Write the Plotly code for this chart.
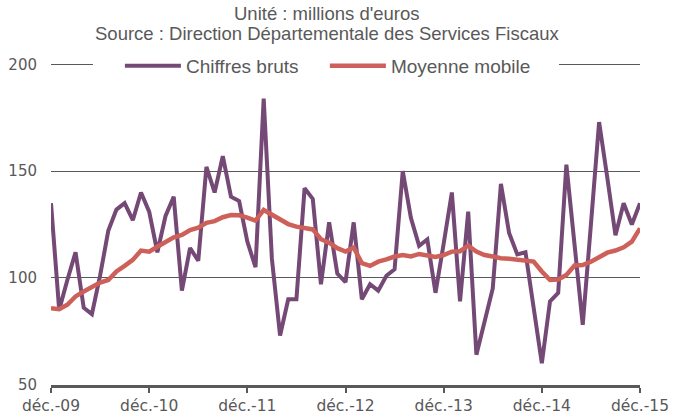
import plotly.graph_objects as go

# monthly values, déc.-09 .. déc.-15 (millions d'euros)
chiffres_bruts = [
    135, 85, 99, 112, 86, 83, 101, 122, 132, 135, 127, 140,
    131, 112, 129, 138, 94, 114, 108, 152, 140, 157, 138, 136,
    117, 105, 184, 109, 73, 90, 90, 142, 137, 97, 126, 102,
    98, 126, 90, 97, 94, 101, 104, 150, 128, 115, 118, 93,
    116, 140, 89, 131, 64, 79, 95, 144, 121, 111, 112, 86,
    60, 89, 93, 153, 115, 78, 125, 173, 147, 120, 135, 125,
    135,
]
moyenne_mobile = [
    85.8, 85.3, 87.4, 91.3, 93.6, 96.0, 97.8, 99.0, 103.0, 105.6, 108.4, 112.8,
    112.3, 114.6, 117.0, 119.0, 120.1, 122.4, 123.5, 125.8, 126.6, 128.4, 129.4, 129.3,
    128.2, 126.8, 131.8, 129.4, 127.1, 125.2, 124.0, 123.2, 122.7, 118.1, 116.5, 113.9,
    112.3, 114.2, 106.9, 105.6, 107.6, 108.7, 110.0, 110.7, 110.0, 111.2, 110.4, 109.8,
    110.7, 112.3, 112.5, 115.1, 112.3, 110.7, 110.0, 109.2, 109.0, 108.4, 108.0, 107.6,
    103.0, 99.0, 99.2, 101.4, 105.8, 106.0, 107.6, 110.0, 111.8, 112.8, 114.3, 117.0,
    123.2,
]

mois_fr = ["janv.", "févr.", "mars", "avr.", "mai", "juin",
           "juil.", "août", "sept.", "oct.", "nov.", "déc."]
mois = ["déc.-09"] + [f"{mois_fr[m]}-{y:02d}" for y in range(10, 16) for m in range(12)]
tick_labels = ["déc.-09", "déc.-10", "déc.-11", "déc.-12", "déc.-13", "déc.-14", "déc.-15"]

gray = "#595959"
purple = "#754975"
red = "#CE605A"

fig = go.Figure()
fig.add_trace(go.Scatter(x=mois, y=chiffres_bruts, mode="lines", name="Chiffres bruts",
                         line=dict(color=purple, width=4)))
fig.add_trace(go.Scatter(x=mois, y=moyenne_mobile, mode="lines", name="Moyenne mobile",
                         line=dict(color=red, width=4.5)))

# top gridline (200), interrupted by the legend
for x0, x1 in [(0, 0.0713), (0.8625, 1)]:
    fig.add_shape(type="line", xref="paper", yref="y", x0=x0, x1=x1, y0=200, y1=200,
                  line=dict(color=gray, width=1.3), layer="below")

title_font = dict(family="Liberation Sans, Arial, sans-serif", size=18.5, color=gray)
fig.add_annotation(text="Unité : millions d'euros", xref="paper", yref="paper",
                   x=0.4686, y=1.1573, xanchor="center", yanchor="middle", showarrow=False,
                   font=title_font)
fig.add_annotation(text="Source : Direction Départementale des Services Fiscaux", xref="paper",
                   yref="paper", x=0.4686, y=1.0950, xanchor="center", yanchor="middle",
                   showarrow=False, font=title_font)

fig.update_layout(
    width=673, height=419,
    margin=dict(l=51, r=33, t=64, b=34, autoexpand=False),
    paper_bgcolor="white", plot_bgcolor="white",
    showlegend=True,
    legend=dict(orientation="h", x=0.117, xanchor="left", y=0.994, yanchor="middle",
                bgcolor="rgba(0,0,0,0)", font=dict(family="Liberation Sans, Arial, sans-serif",
                                                   size=19, color=gray),
                itemwidth=56, entrywidth=134, entrywidthmode="pixels"),
)
fig.update_xaxes(type="category", range=[0, 72], tickmode="array", tickvals=tick_labels,
                 ticktext=tick_labels, showgrid=False, showline=True, linecolor=gray,
                 linewidth=2.5, ticks="outside", ticklen=5, tickwidth=2, tickcolor=gray,
                 automargin=False,
                 tickfont=dict(family="DejaVu Sans", size=15.5, color=gray))
fig.update_yaxes(range=[49.8, 200.2], dtick=50, tick0=50, showgrid=True, gridcolor=gray,
                 gridwidth=1.3, zeroline=False, showline=False, ticks="",
                 ticklabelstandoff=13, automargin=False,
                 tickfont=dict(family="DejaVu Sans", size=15, color=gray))

# drop the default 8px page margin so the figure fills the window
fig.write_html("out.html", config={"displayModeBar": False},
               post_script="document.body.style.margin='0';")
